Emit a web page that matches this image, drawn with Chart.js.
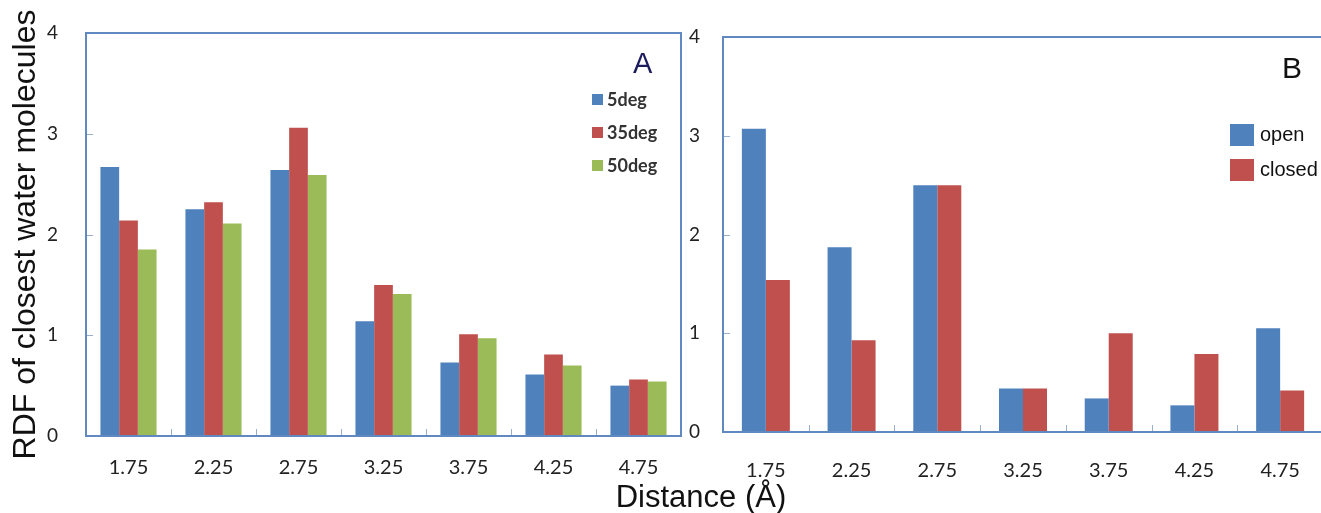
<!DOCTYPE html>
<html>
<head>
<meta charset="utf-8">
<script src="https://cdn.jsdelivr.net/npm/chart.js@4.4.1/dist/chart.umd.min.js"></script>
<style>
  html, body { margin: 0; padding: 0; background: #fff; }
  body { width: 1321px; height: 513px; overflow: hidden; position: relative; }
  canvas { position: absolute; top: 0; }
  #chartA { left: 0; }
  #chartB { left: 684px; }
  .lbl { position: absolute; white-space: nowrap; }
  .panel { font-family: "Liberation Sans", Arial, sans-serif; line-height: 1; }
  .legA { font-family: Lato, sans-serif; font-weight: bold; font-size: 18px; color: #333; line-height: 1; }
  .legB { font-family: "Liberation Sans", Arial, sans-serif; font-size: 20px; color: #111; line-height: 1; }
  .sw { position: absolute; }
  #xtitle { font-family: "Liberation Sans", Arial, sans-serif; font-size: 31px; color: #111; left: 0; width: 1402px; text-align: center; top: 481px; line-height: 1; }
</style>
</head>
<body>
<canvas id="chartA" width="700" height="513"></canvas>
<canvas id="chartB" width="646" height="513"></canvas>
<div id="xtitle" class="lbl">Distance (Å)</div>
<div id="legends"></div>
<script>
// Distâncias (categorias) e valores
const distancias = ['1.75', '2.25', '2.75', '3.25', '3.75', '4.25', '4.75'];

// Painel A
const deg5  = [2.67, 2.25, 2.64, 1.14, 0.73, 0.61, 0.50];
const deg35 = [2.14, 2.32, 3.06, 1.50, 1.01, 0.81, 0.56];
const deg50 = [1.85, 2.11, 2.59, 1.41, 0.97, 0.70, 0.54];

// Painel B
const aberto  = [3.07, 1.87, 2.50, 0.44, 0.34, 0.27, 1.05];
const fechado = [1.54, 0.93, 2.50, 0.44, 1.00, 0.79, 0.42];

// Eixo y
const yMin = 0, yMax = 4, yPasso = 1;

const AZUL = '#4F81BD', VERMELHO = '#C0504D', VERDE = '#9BBB59';
const BORDA = '#5F89C0';

// Moldura + marcas internas
const molduraPlugin = {
  id: 'moldura',
  afterDatasetsDraw(chart) {
    const { ctx, chartArea: a, scales } = chart;
    ctx.save();
    // marcas do eixo y (para dentro)
    ctx.strokeStyle = '#9AAFCB';
    ctx.lineWidth = 1;
    for (let v = yMin + yPasso; v < yMax; v += yPasso) {
      const y = Math.round(scales.y.getPixelForValue(v)) + 0.5;
      ctx.beginPath();
      ctx.moveTo(a.left, y);
      ctx.lineTo(a.left + 7, y);
      ctx.stroke();
    }
    // marcas do eixo x entre categorias
    for (let i = 1; i < distancias.length; i++) {
      const x = Math.round((scales.x.getPixelForValue(i - 1) + scales.x.getPixelForValue(i)) / 2) + 0.5;
      ctx.beginPath();
      ctx.moveTo(x, a.bottom - 7);
      ctx.lineTo(x, a.bottom);
      ctx.stroke();
    }
    ctx.strokeStyle = BORDA;
    ctx.lineWidth = 2;
    ctx.strokeRect(a.left, a.top, a.right - a.left, a.bottom - a.top);
    ctx.restore();
  }
};

function opcoes(cfg) {
  return {
    responsive: false,
    animation: false,
    devicePixelRatio: 1,
    layout: { padding: { top: cfg.top, right: cfg.right, left: 0, bottom: 0 } },
    plugins: { legend: { display: false }, tooltip: { enabled: false } },
    datasets: { bar: { categoryPercentage: cfg.cat, barPercentage: 1.0, borderWidth: 0 } },
    scales: {
      x: {
        grid: { display: false },
        border: { display: false },
        ticks: { font: { family: 'Lato', size: 20 }, color: '#222', padding: cfg.xPad, maxRotation: 0 },
        afterFit: s => { s.height = cfg.xAlt; }
      },
      y: {
        min: yMin, max: yMax,
        grid: { display: false },
        border: { display: false },
        ticks: { stepSize: yPasso, font: { family: 'Lato', size: 19 }, color: '#222', padding: cfg.yPad },
        title: cfg.titulo ? {
          display: true, text: cfg.titulo, color: '#111',
          font: { family: 'Liberation Sans', size: 32 }, padding: { top: 7, bottom: 0 }
        } : { display: false },
        afterFit: s => { s.width = cfg.yLarg; }
      }
    }
  };
}

new Chart(document.getElementById('chartA'), {
  type: 'bar',
  data: {
    labels: distancias,
    datasets: [
      { label: '5deg', data: deg5, backgroundColor: AZUL },
      { label: '35deg', data: deg35, backgroundColor: VERMELHO },
      { label: '50deg', data: deg50, backgroundColor: VERDE }
    ]
  },
  options: opcoes({ top: 33, right: 19, cat: 0.66, xPad: 12, xAlt: 77, yPad: 20, yLarg: 86,
                    titulo: 'RDF of closest water molecules' }),
  plugins: [molduraPlugin]
});

new Chart(document.getElementById('chartB'), {
  type: 'bar',
  data: {
    labels: distancias,
    datasets: [
      { label: 'open', data: aberto, backgroundColor: AZUL },
      { label: 'closed', data: fechado, backgroundColor: VERMELHO }
    ]
  },
  options: opcoes({ top: 37, right: 7, cat: 0.56, xPad: 19, xAlt: 81, yPad: 15, yLarg: 39, titulo: null }),
  plugins: [molduraPlugin]
});

// Legendas e rótulos dos painéis (HTML)
const leg = document.getElementById('legends');
function add(html) { leg.insertAdjacentHTML('beforeend', html); }

add('<div class="lbl panel" style="left:633px;top:49px;font-size:29px;color:#1d1d5e">A</div>');
add('<div class="lbl panel" style="left:1282px;top:53px;font-size:30px;color:#111">B</div>');

[['5deg', AZUL, 100], ['35deg', VERMELHO, 133], ['50deg', VERDE, 166]].forEach(([t, c, y]) => {
  add(`<div class="sw" style="left:592px;top:${y - 6}px;width:11px;height:11px;background:${c}"></div>`);
  add(`<div class="lbl legA" style="left:607px;top:${y - 10}px">${t}</div>`);
});
[['open', AZUL, 135], ['closed', VERMELHO, 170]].forEach(([t, c, y]) => {
  add(`<div class="sw" style="left:1230px;top:${y - 11}px;width:24px;height:22px;background:${c}"></div>`);
  add(`<div class="lbl legB" style="left:1260px;top:${y - 11}px">${t}</div>`);
});
</script>
</body>
</html>
